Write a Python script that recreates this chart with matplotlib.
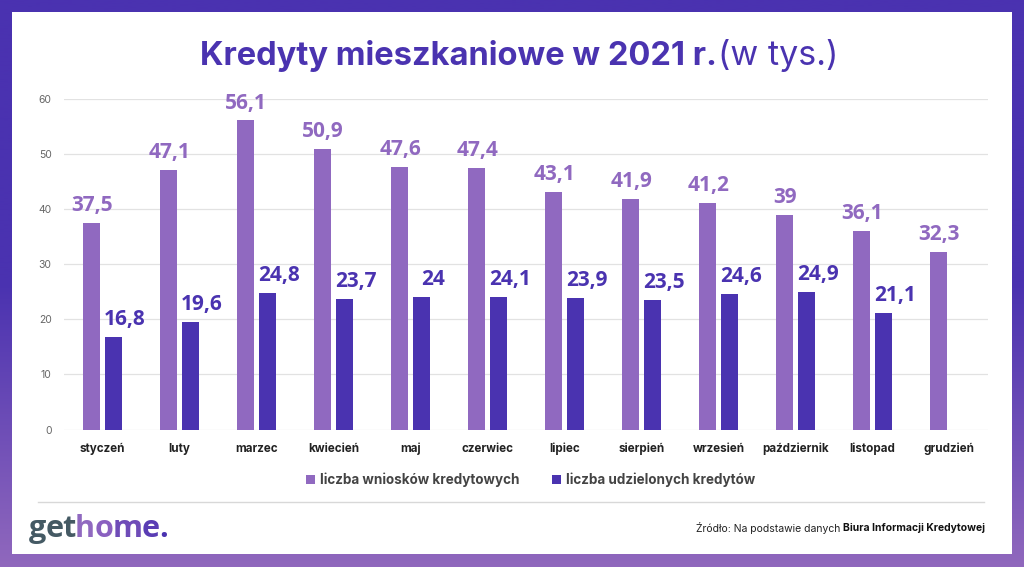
import numpy as np
import matplotlib
matplotlib.use('Agg')
import matplotlib.pyplot as plt
from matplotlib.colors import LinearSegmentedColormap
from matplotlib.patches import Rectangle

months = ['styczeń', 'luty', 'marzec', 'kwiecień', 'maj', 'czerwiec', 'lipiec',
          'sierpień', 'wrzesień', 'październik', 'listopad', 'grudzień']
applications = [37.5, 47.1, 56.1, 50.9, 47.6, 47.4, 43.1, 41.9, 41.2, 39, 36.1, 32.3]
granted = [16.8, 19.6, 24.8, 23.7, 24, 24.1, 23.9, 23.5, 24.6, 24.9, 21.1, None]
yticks = [0, 10, 20, 30, 40, 50, 60]
LIGHT = '#9069c0'
DARK = '#4a33b0'
W, H = 1024, 567
FONT = 'Inter'
LABEL_FONT = 'Open Sans'

def fmt(v):
    return f'{v:g}'.replace('.', ',')

fig = plt.figure(figsize=(W / 100, H / 100), dpi=100)
bg = fig.add_axes([0, 0, 1, 1])
bg.set_xlim(0, W); bg.set_ylim(H, 0); bg.axis('off')
cmap = LinearSegmentedColormap.from_list('bg', ['#4a32b0', '#4a32b0', '#9068bd'])
bg.imshow(np.linspace(0, 1, 256).reshape(-1, 1), cmap=cmap, extent=[0, W, H, 0], aspect='auto', zorder=0)
bg.add_patch(Rectangle((12, 12), 1000, 542, fc='white', ec='none', zorder=1))
bg.plot([38, 984], [501.5, 501.5], color='#d8d8d8', lw=1, zorder=2)

bg.text(200, 55.5, 'Kredyty mieszkaniowe w 2021 r.', fontsize=23.5, fontweight='bold', family=FONT,
        color=DARK, ha='left', va='center', zorder=3)
bg.text(838, 55.5, '(w tys.)', fontsize=24.5, family=FONT, color=DARK, ha='right', va='center', zorder=3)

# plot area: 0 at y=429.5, 60 at y=99
ax = fig.add_axes([64 / W, 1 - 429.5 / H, 924 / W, 330.5 / H])
ax.patch.set_alpha(0)
x = np.arange(len(months))
bw = 0.228
off = 0.143
ax.bar(x - off, applications, bw, color=LIGHT, zorder=3)
gx = [i for i, v in zip(x, granted) if v is not None]
gv = [v for v in granted if v is not None]
ax.bar(np.array(gx) + off, gv, bw, color=DARK, zorder=3)
for xi, v in zip(x, applications):
    ax.annotate(fmt(v), (xi - off, v), xytext=(0.5, 5), textcoords='offset points', ha='center', va='bottom',
                fontsize=15, fontweight='bold', family=LABEL_FONT, color=LIGHT, zorder=4)
for xi, v in zip(gx, gv):
    ax.annotate(fmt(v), (xi + off, v), xytext=(8, 5), textcoords='offset points', ha='center', va='bottom',
                fontsize=15, fontweight='bold', family=LABEL_FONT, color=DARK, zorder=4)
ax.set_xlim(-0.5, 11.5)
ax.set_ylim(0, 60)
ax.set_yticks(yticks)
ax.set_xticks(x)
ax.set_xticklabels(months, fontsize=8.4, fontweight='bold', family=FONT, color='#222222')
ax.tick_params(axis='y', length=0, pad=9, labelsize=7.5, labelcolor='#666666')
ax.tick_params(axis='x', length=0, pad=9.5)
for lab in ax.get_yticklabels():
    lab.set_family(FONT)
ax.grid(axis='y', color='#e2e2e2', lw=0.9, zorder=0)
for s in ax.spines.values():
    s.set_visible(False)

# legend
bg.add_patch(Rectangle((306, 475), 9, 9, fc=LIGHT, ec='none', zorder=3))
bg.text(320, 479.5, 'liczba wniosków kredytowych', fontsize=9.7, fontweight='bold', family=FONT,
        color='#444444', va='center', zorder=3)
bg.add_patch(Rectangle((552, 475), 9, 9, fc=DARK, ec='none', zorder=3))
bg.text(566, 479.5, 'liczba udzielonych kredytów', fontsize=9.7, fontweight='bold', family=FONT,
        color='#444444', va='center', zorder=3)

# logo, letter by letter for the gradient
logo = [('g', '#455a64'), ('e', '#455a64'), ('t', '#455a64'), ('h', '#9069c0'), ('o', '#8a60c0'),
        ('m', '#6f4cb8'), ('e', '#5a3db4'), ('.', '#4a33b0')]
r = fig.canvas.get_renderer()
px = 29
for ch, c in logo:
    t = bg.text(px, 537, ch, fontsize=22, fontweight='bold', family=LABEL_FONT, color=c, ha='left',
                va='baseline', zorder=3)
    px += t.get_window_extent(r).width - 0.8

# source
s2 = bg.text(985, 528, 'Biura Informacji Kredytowej', fontsize=7.5, fontweight='bold', family=FONT,
             color='#111111', ha='right', va='center', zorder=3)
x0 = s2.get_window_extent(r).x0
bg.text(x0 - 3, 528, 'Źródło: Na podstawie danych', fontsize=7.5, family=FONT, color='#222222',
        ha='right', va='center', zorder=3)

fig.savefig('out.png', dpi=100)
